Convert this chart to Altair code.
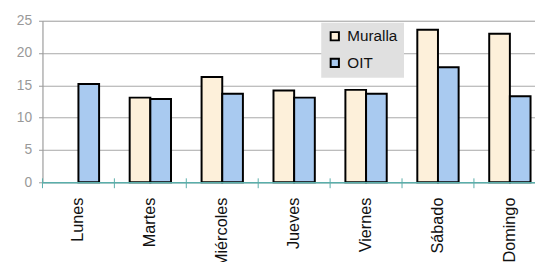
import altair as alt
import pandas as pd

days = ["Lunes", "Martes", "Miércoles", "Jueves", "Viernes", "Sábado", "Domingo"]
muralla = [None, 13.1, 16.3, 14.2, 14.3, 23.6, 23.0]
oit = [15.2, 12.9, 13.7, 13.1, 13.7, 17.8, 13.3]
series = ["Muralla", "OIT"]
colors = ["#FDF0DA", "#A9CAF0"]
y_ticks = [0, 5, 10, 15, 20, 25]

rows = []
for d, m, o in zip(days, muralla, oit):
    if m is not None:
        rows.append({"day": d, "serie": "Muralla", "value": m})
    rows.append({"day": d, "serie": "OIT", "value": o})
df = pd.DataFrame(rows)
ticks_df = pd.DataFrame({"day": days})

W, H = 500, 164
BAND_RANGE = 511
TEAL = "#5aaeaa"
FONT = "Liberation Sans"

x_scale = alt.Scale(domain=days, paddingInner=0, paddingOuter=0, range=[0, BAND_RANGE])
x_axis = alt.Axis(title=None, labelAngle=270, ticks=False, labelPadding=15,
                  domainColor=TEAL, domainWidth=1.5, labelFontSize=16.5,
                  labelColor="#111", labelFont=FONT, grid=False, zindex=1)

tick_rules = alt.Chart(ticks_df).mark_rule(color=TEAL, strokeWidth=1).encode(
    x=alt.X("day:N", sort=days, scale=x_scale, bandPosition=0, axis=x_axis),
    y=alt.value(H - 4),
    y2=alt.value(H + 6),
)

bars = alt.Chart(df).mark_bar(stroke="black", strokeWidth=2).encode(
    x=alt.X("day:N", sort=days, scale=x_scale, axis=x_axis),
    xOffset=alt.XOffset("serie:N", sort=series,
                        scale=alt.Scale(domain=series, paddingInner=0, paddingOuter=0.74)),
    y=alt.Y("value:Q", scale=alt.Scale(domain=[0, 25], nice=False),
            axis=alt.Axis(values=y_ticks, title=None, domainColor="#999", tickColor="#999",
                          tickSize=4, labelColor="#999", labelFontSize=14, labelPadding=7,
                          labelFont=FONT, gridColor="#a8a8a8", gridWidth=1)),
    color=alt.Color("serie:N", sort=series, scale=alt.Scale(domain=series, range=colors),
                    legend=alt.Legend(title=None, orient="none", legendX=283, legendY=2,
                                      fillColor="#e0e0e0", padding=6, symbolType="square",
                                      symbolSize=70, symbolStrokeColor="black",
                                      symbolStrokeWidth=2, labelFontSize=15.5,
                                      labelColor="#111", labelFont=FONT, rowPadding=9,
                                      labelOffset=5)),
)

chart = alt.layer(bars, tick_rules).properties(
    width=W, height=H,
    autosize=alt.AutoSizeParams(type="none"),
    padding={"left": 35, "top": 11, "right": 0, "bottom": 80},
).configure_view(stroke=None).configure(font=FONT)

chart.save("out.html", embed_options={"renderer": "svg", "actions": False})
